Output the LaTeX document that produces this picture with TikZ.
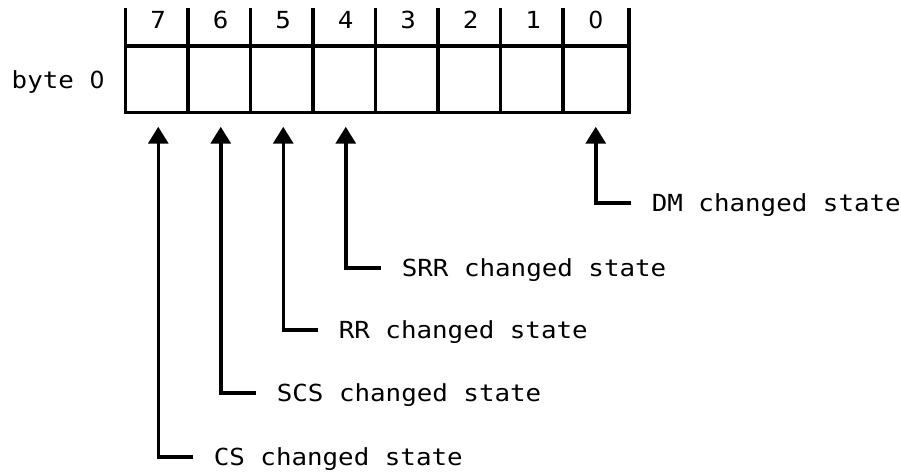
\documentclass[tikz,border=0pt]{standalone}
\usepackage{fontspec}
\newfontfamily\plotfont[FakeStretch=1.1]{DejaVu Sans Mono}
% plain zero without the inner dot of the mono face
\newfontfamily\zerofont{DejaVu Sans}
\newcommand\zero{{\zerofont 0}}
\usetikzlibrary{arrows.meta,calc}

\begin{document}
\begin{tikzpicture}[x=1pt,y=-1pt,line width=3.5pt,
    txt/.style={font=\plotfont\fontsize{23.5}{28}\selectfont,inner sep=0pt,
                text height=17pt,text depth=0pt},
    cell/.style={minimum width=62.5pt,minimum height=63pt,inner sep=0pt},
    label/.style={txt,anchor=west},
    pointer/.style={-{Triangle[width=20pt,length=17pt]},line width=3.5pt}]
  \useasboundingbox (0,0) rectangle (901,473);

  % register cells, bit 7 on the left
  \foreach \b in {1,...,7}{
    \node[cell] (c\b) at ({127+(7-\b)*62.5+31.25},79.5) {};
    \node[txt] (h\b) at ({127+(7-\b)*62.5+31.25},20) {\b};
  }
  \node[cell] (c0) at ({127+7*62.5+31.25},79.5) {};
  \node[txt] (h0) at ({127+7*62.5+31.25},20) {\zero};
  \node[txt,anchor=west] (byte) at (10,80) {byte \zero};

  % outline of the byte and the bit separators
  \draw (c7.north west) rectangle (c0.south east);
  \foreach \b in {0,...,7}{
    \draw (c\b.south west) -- ($(c\b.north west)+(0,-38)$);
  }
  \draw (c0.south east) -- ($(c0.north east)+(0,-38)$);

  % bit descriptions
  \node[label] (l0) at (650,203) {DM changed state};
  \node[label] (l4) at (400,268) {SRR changed state};
  \node[label] (l5) at (337,330) {RR changed state};
  \node[label] (l6) at (275,393) {SCS changed state};
  \node[label] (l7) at (212,457) {CS changed state};

  % pointers from descriptions up to their bits
  \foreach \b in {0,4,5,6,7}{
    \draw[pointer] ([xshift=-19pt]l\b.west) -| ($(c\b.south)+(0,14)$);
  }
\end{tikzpicture}
\end{document}
